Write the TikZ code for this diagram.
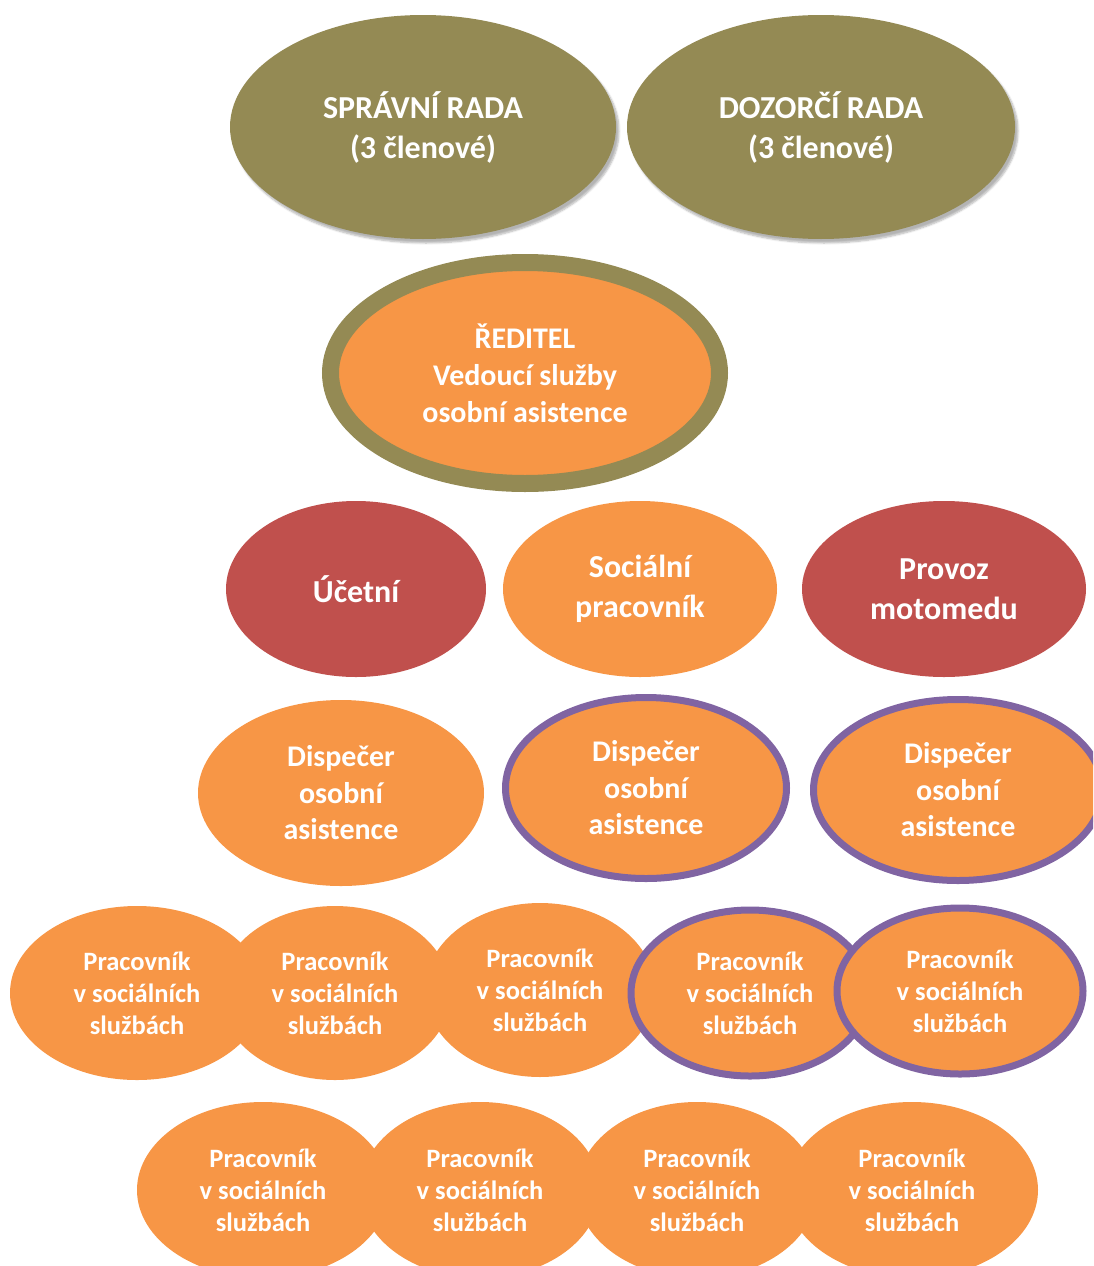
\documentclass[tikz,border=0pt]{standalone}
\usepackage{fontspec}
\setmainfont{Carlito}
\usetikzlibrary{shapes.geometric,shadows.blur}
\definecolor{olive}{HTML}{948A54}
\definecolor{orng}{HTML}{F79646}
\definecolor{redd}{HTML}{C0504D}
\definecolor{purp}{HTML}{8064A2}
\tikzset{
  bubble/.style={ellipse, inner sep=0pt, text=white, align=center},
  big/.style={font=\bfseries\fontsize{32}{40}\selectfont},
  mid/.style={font=\bfseries\fontsize{30}{37}\selectfont},
  disp/.style={font=\bfseries\fontsize{30}{36.5}\selectfont},
  small/.style={font=\bfseries\fontsize{26.5}{32}\selectfont},
  shad/.style={blur shadow={shadow xshift=3pt, shadow yshift=-4pt, shadow blur steps=6, shadow opacity=30}},
  purpring/.style={draw=purp, line width=7pt},
}
\begin{document}
\begin{tikzpicture}[x=1pt,y=-1pt]
\useasboundingbox (0,0) rectangle (1093,1266);
\begin{scope}
\clip (0,0) rectangle (1093,1266);
% top row
\node[bubble, big, shad, fill=olive, minimum width=386, minimum height=224] (spr) at (423,127) {SPRÁVNÍ RADA\\(3 členové)};
\node[bubble, big, shad, fill=olive, minimum width=388, minimum height=224] (doz) at (821,127) {DOZORČÍ RADA\\(3 členové)};
% director
\node[bubble, mid, shad, fill=orng, draw=olive, line width=17pt, minimum width=389, minimum height=221] (red) at (525,373) {ŘEDITEL\\Vedoucí služby\\osobní asistence};
% row 3
\node[bubble, big, fill=redd, minimum width=260, minimum height=176] (uce) at (356,589) {Účetní};
\node[bubble, big, fill=orng, minimum width=274, minimum height=176] (soc) at (640,589) {Sociální\\pracovník};
\node[bubble, big, fill=redd, minimum width=284, minimum height=176] (pro) at (944,589) {Provoz\\motomedu};
% row 4
\node[bubble, disp, fill=orng, minimum width=286, minimum height=186] (d1) at (341,793) {Dispečer\\osobní\\asistence};
\node[bubble, disp, fill=orng, purpring, minimum width=281, minimum height=181] (d2) at (646,788) {Dispečer\\osobní\\asistence};
\node[bubble, disp, fill=orng, purpring, minimum width=289, minimum height=181] (d3) at (958,790) {Dispečer\\osobní\\asistence};
% row 5
\node[bubble, small, fill=orng, minimum width=254, minimum height=174] (p1) at (137,993) {Pracovník\\v sociálních\\službách};
\node[bubble, small, fill=orng, minimum width=232, minimum height=174] (p2) at (335,993) {Pracovník\\v sociálních\\službách};
\node[bubble, small, fill=orng, minimum width=230, minimum height=174] (p3) at (540,990) {Pracovník\\v sociálních\\službách};
\node[bubble, small, fill=orng, purpring, minimum width=238, minimum height=166] (p4) at (750,993) {Pracovník\\v sociálních\\službách};
\node[bubble, small, fill=orng, purpring, minimum width=246, minimum height=166] (p5) at (960,991) {Pracovník\\v sociálních\\službách};
% row 6
\node[bubble, small, fill=orng, minimum width=252, minimum height=176] (q1) at (263,1190) {Pracovník\\v sociálních\\službách};
\node[bubble, small, fill=orng, minimum width=240, minimum height=176] (q2) at (480,1190) {Pracovník\\v sociálních\\službách};
\node[bubble, small, fill=orng, minimum width=240, minimum height=176] (q3) at (697,1190) {Pracovník\\v sociálních\\službách};
\node[bubble, small, fill=orng, minimum width=252, minimum height=176] (q4) at (912,1190) {Pracovník\\v sociálních\\službách};
\end{scope}
\end{tikzpicture}
\end{document}
